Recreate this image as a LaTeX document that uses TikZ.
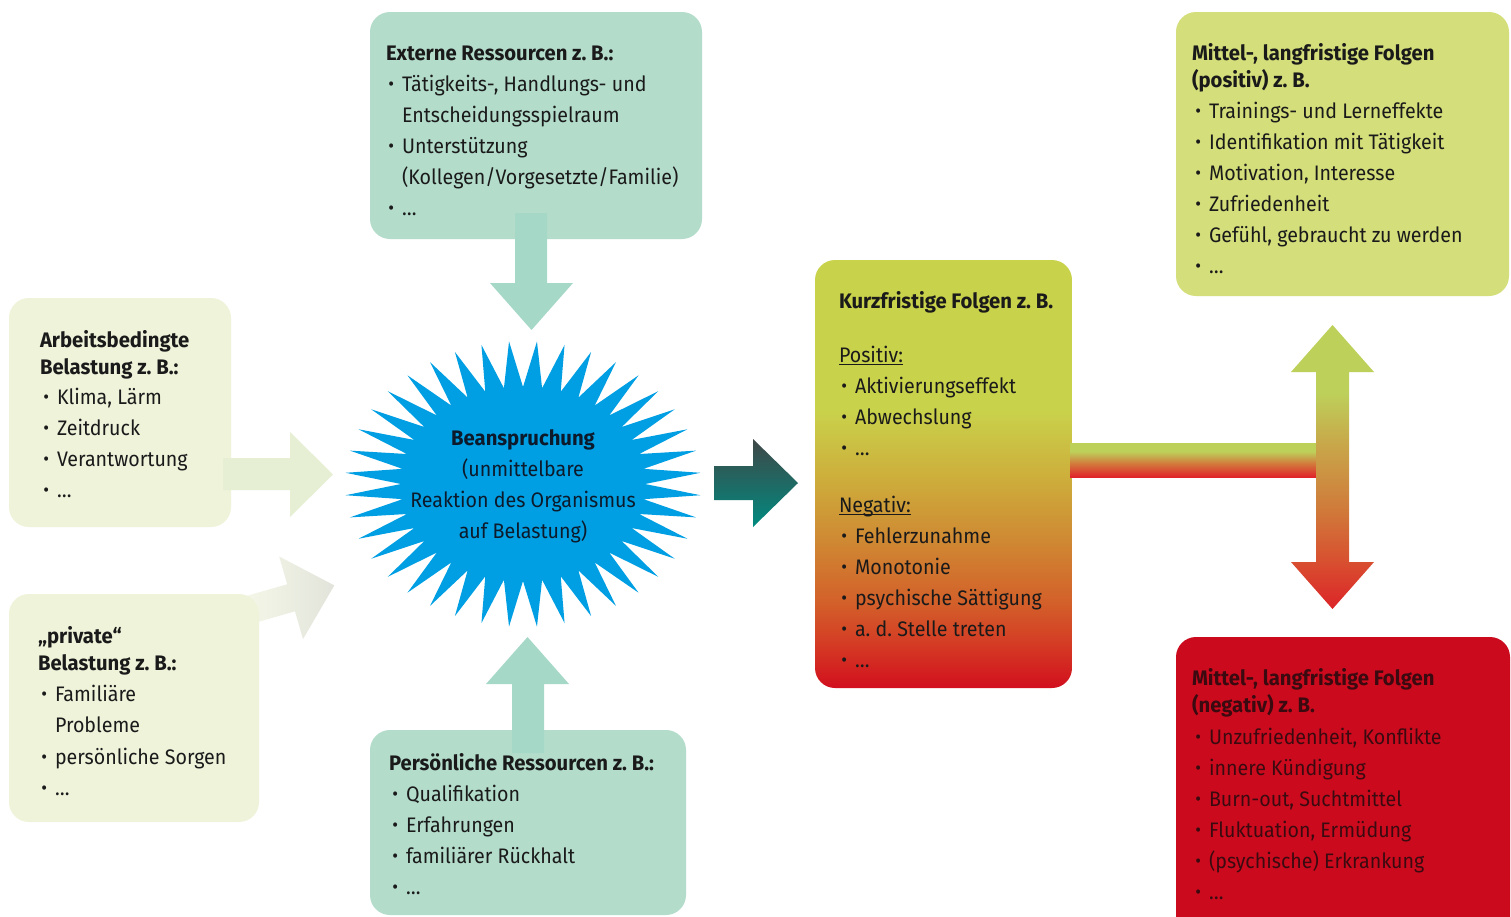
\documentclass[tikz,border=0pt]{standalone}
\usepackage{fontspec}
\setmainfont{Fira Sans}[FakeStretch=0.935, BoldFeatures={FakeStretch=0.965}]
\frenchspacing
\definecolor{mint}{HTML}{B3DCCB}
\definecolor{mintarrow}{HTML}{A6D8C8}
\definecolor{pale}{HTML}{EEF3DA}
\definecolor{palearrow}{HTML}{E6EFD4}
\definecolor{paleL}{HTML}{F5F8E8}
\definecolor{paleR}{HTML}{E2E4DB}
\definecolor{burst}{HTML}{009FE3}
\definecolor{posbox}{HTML}{D4DE7A}
\definecolor{negbox}{HTML}{CC0A1E}
\definecolor{ink}{HTML}{1A1A1A}
\definecolor{burstink}{HTML}{0D1A2B}
\definecolor{redink}{HTML}{3A0A10}
\definecolor{tealtop}{HTML}{3F4747}
\definecolor{tealbot}{HTML}{008B80}
\definecolor{kR}{HTML}{D20F1E}
\definecolor{kR2}{HTML}{D43A24}
\definecolor{kO3}{HTML}{D3602A}
\definecolor{kO2}{HTML}{CF8A33}
\definecolor{kO1}{HTML}{CDB03C}
\definecolor{kG}{HTML}{C9D24B}
\definecolor{bR}{HTML}{E0242A}
\definecolor{bO}{HTML}{D27A3C}
\definecolor{bG}{HTML}{BDD05A}
\definecolor{dR}{HTML}{DC2428}
\definecolor{dR2}{HTML}{D85030}
\definecolor{dO}{HTML}{D07A3A}
\definecolor{dY}{HTML}{C8A84A}
\pgfdeclareverticalshading{kurzsh}{100bp}{color(0bp)=(kR); color(25bp)=(kR); color(30bp)=(kR2); color(35bp)=(kO3); color(42.5bp)=(kO2); color(50bp)=(kO1); color(57.5bp)=(kG); color(75bp)=(kG); color(100bp)=(kG)}
\pgfdeclareverticalshading{barsh}{100bp}{color(0bp)=(bR); color(25bp)=(bR); color(45bp)=(bO); color(62.5bp)=(bG); color(100bp)=(bG)}
\pgfdeclareverticalshading{dblsh}{100bp}{color(0bp)=(dR); color(25bp)=(dR); color(33.5bp)=(dR2); color(42.5bp)=(dO); color(54.25bp)=(dY); color(63bp)=(bG); color(100bp)=(bG)}
\newcommand\bl{\llap{\raisebox{0.6pt}{\scalebox{0.9}{•}}\hspace{8pt}}}
\newcommand\ulx[1]{\setbox0\hbox{#1}\rlap{\rule[-3.2pt]{\wd0}{1.2pt}}\box0}
\begin{document}
\begin{tikzpicture}[x=1pt,y=-1pt,
  rbox/.style={rectangle, rounded corners=20pt, inner sep=0pt, outer sep=0pt, draw=none},
  txt/.style={anchor=base west, inner sep=0pt, outer sep=0pt, font=\fontsize{21}{25}\selectfont, text=ink},
  hd/.style={txt, font=\fontsize{21}{25}\selectfont\bfseries},
  ctxt/.style={txt, anchor=base, text=burstink}]
\useasboundingbox (0,0) rectangle (1511,916);
\fill[white] (0,0) rectangle (1511,916);

% diagonal arrow (private -> burst), drawn below its box
\path[left color=paleL, middle color=palearrow, right color=paleR]
  (241.1,597.5) -- (287.2,584.3) -- (279.2,556.5) -- (334.3,585.4) -- (303,639.1) -- (295,611.3) -- (248.9,624.5) -- cycle;

% boxes
\node[rbox, fill=mint, minimum width=332pt, minimum height=227pt] (ext) at (536,125.5) {};
\node[rbox, fill=pale, minimum width=222pt, minimum height=229pt] (arb) at (120,412.5) {};
\node[rbox, fill=pale, minimum width=250pt, minimum height=228pt] (priv) at (134,708) {};
\node[rbox, fill=mint, minimum width=316pt, minimum height=185pt] (pers) at (528,822.5) {};
\node[rbox, shading=kurzsh, minimum width=257pt, minimum height=428pt] (kurz) at (943.5,474) {};
\node[rbox, fill=posbox, minimum width=333pt, minimum height=284pt] (pos) at (1342.5,154) {};
\node[rbox, fill=negbox, minimum width=334pt, minimum height=303pt] (neg) at (1343,788.5) {};

% starburst
\begin{scope}[shift={(523,484)}]
\fill[burst] (0:122 and 97) \foreach \i in {1,...,79} { -- ({\i*4.5}:{150-28*cos(180*\i)} and {120-23*cos(180*\i)}) } -- cycle;
\end{scope}
\coordinate (burstc) at (523,484);

% block arrows
\fill[mintarrow] (515,213) -- (547,213) -- (547,283) -- (573,283) -- (531.5,330) -- (490,283) -- (515,283) -- cycle;
\fill[mintarrow] (512,753) -- (544,753) -- (544,684) -- (569,684) -- (527.5,637) -- (486,684) -- (512,684) -- cycle;
\fill[palearrow] (223,458) -- (290,458) -- (290,432) -- (333,474.5) -- (290,517) -- (290,490) -- (223,490) -- cycle;
\path[top color=tealtop, bottom color=tealbot]
  (714,466) -- (753,466) -- (753,439) -- (798,483) -- (753,527) -- (753,500) -- (714,500) -- cycle;
\path[shading=barsh] (1070,443) rectangle (1317,477);
\path[shading=dblsh] (1316,372) -- (1291,372) -- (1332.5,325) -- (1374,372) -- (1349,372) -- (1349,562) -- (1374,562) -- (1332.5,609) -- (1291,562) -- (1316,562) -- cycle;

% texts: externe
\node[hd] (e0) at (386,60) {Externe Ressourcen z. B.:};
\node[txt] (e1) at (402,91) {\bl Tätigkeits-, Handlungs- und};
\node[txt] (e2) at (402,122) {Entscheidungsspielraum};
\node[txt] (e3) at (402,153) {\bl Unterstützung};
\node[txt] (e4) at (402,184) {(Kollegen/Vorgesetzte/Familie)};
\node[txt] (e5) at (402,215) {\bl …};
% arbeitsbedingt
\node[hd] (a0) at (40,347) {Arbeitsbedingte};
\node[hd] (a1) at (40,374) {Belastung z. B.:};
\node[txt] (a2) at (57,404) {\bl Klima, Lärm};
\node[txt] (a3) at (57,435) {\bl Zeitdruck};
\node[txt] (a4) at (57,466) {\bl Verantwortung};
\node[txt] (a5) at (57,497) {\bl …};
% private
\node[hd] (p0) at (38,643) {„private“};
\node[hd] (p1) at (38,670) {Belastung z. B.:};
\node[txt] (p2) at (55,701) {\bl Familiäre};
\node[txt] (p3) at (55,732) {Probleme};
\node[txt] (p4) at (55,764) {\bl persönliche Sorgen};
\node[txt] (p5) at (55,795) {\bl …};
% persoenlich
\node[hd] (r0) at (389,770) {Persönliche Ressourcen z. B.:};
\node[txt] (r1) at (406,801) {\bl Qualifikation};
\node[txt] (r2) at (406,832) {\bl Erfahrungen};
\node[txt] (r3) at (406,863) {\bl familiärer Rückhalt};
\node[txt] (r4) at (406,894) {\bl …};
% burst
\node[ctxt, font=\fontsize{21}{25}\selectfont\bfseries] (b0) at (523,445) {Beanspruchung};
\node[ctxt] (b1) at (523,476) {(unmittelbare};
\node[ctxt] (b2) at (523,507) {Reaktion des Organismus};
\node[ctxt] (b3) at (523,538) {auf Belastung)};
% kurzfristig
\node[hd] (k0) at (839,308) {Kurzfristige Folgen z. B.};
\node[txt] (k1) at (839,362) {\ulx{Positiv:}};
\node[txt] (k2) at (855,393) {\bl Aktivierungseffekt};
\node[txt] (k3) at (855,424) {\bl Abwechslung};
\node[txt] (k4) at (855,455) {\bl …};
\node[txt] (k5) at (839,512) {\ulx{Negativ:}};
\node[txt] (k6) at (855,543) {\bl Fehlerzunahme};
\node[txt] (k7) at (855,574) {\bl Monotonie};
\node[txt] (k8) at (855,605) {\bl psychische Sättigung};
\node[txt] (k9) at (855,636) {\bl a. d. Stelle treten};
\node[txt] (k10) at (855,667) {\bl …};
% positiv
\node[hd] (m0) at (1192,60) {Mittel-, langfristige Folgen};
\node[hd] (m1) at (1192,87) {(positiv) z. B.};
\node[txt] (m2) at (1209,118) {\bl Trainings- und Lerneffekte};
\node[txt] (m3) at (1209,149) {\bl Identifikation mit Tätigkeit};
\node[txt] (m4) at (1209,180) {\bl Motivation, Interesse};
\node[txt] (m5) at (1209,211) {\bl Zufriedenheit};
\node[txt] (m6) at (1209,242) {\bl Gefühl, gebraucht zu werden};
\node[txt] (m7) at (1209,273) {\bl …};
% negativ
\node[hd, text=redink] (n0) at (1192,685) {Mittel-, langfristige Folgen};
\node[hd, text=redink] (n1) at (1192,712) {(negativ) z. B.};
\node[txt, text=redink] (n2) at (1209,744) {\bl Unzufriedenheit, Konflikte};
\node[txt, text=redink] (n3) at (1209,775) {\bl innere Kündigung};
\node[txt, text=redink] (n4) at (1209,806) {\bl Burn-out, Suchtmittel};
\node[txt, text=redink] (n5) at (1209,837) {\bl Fluktuation, Ermüdung};
\node[txt, text=redink] (n6) at (1209,868) {\bl (psychische) Erkrankung};
\node[txt, text=redink] (n7) at (1209,899) {\bl …};
\end{tikzpicture}
\end{document}
